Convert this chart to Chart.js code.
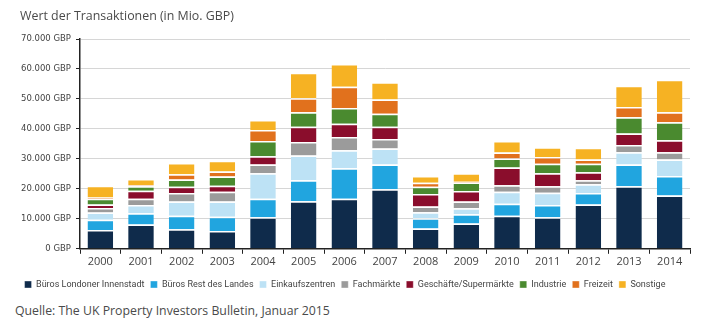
<!DOCTYPE html>
<html lang="de">
<head>
<meta charset="UTF-8">
<title>Wert der Transaktionen</title>
<style>
* { margin: 0; padding: 0; box-sizing: border-box; }
body {
  width: 705px;
  height: 335px;
  background: #fff;
  font-family: "Open Sans", sans-serif;
  color: #4a4a4a;
  position: relative;
  overflow: hidden;
}
.chart-title {
  position: absolute;
  left: 20px;
  top: 7px;
  font-size: 12.4px;
}
.chart-box {
  position: absolute;
  left: 0;
  top: 0;
  width: 705px;
  height: 300px;
}
.source {
  position: absolute;
  left: 15px;
  top: 302px;
  font-size: 12.3px;
}
</style>
<script src="https://cdn.jsdelivr.net/npm/chart.js@4.4.1/dist/chart.umd.min.js"></script>
</head>
<body>
<div class="chart-box"><canvas id="chart"></canvas></div>
<div class="chart-title">Wert der Transaktionen (in Mio. GBP)</div>
<div class="source">Quelle: The UK Property Investors Bulletin, Januar 2015</div>
<script>
// Jahre
const years = ['2000', '2001', '2002', '2003', '2004', '2005', '2006', '2007',
               '2008', '2009', '2010', '2011', '2012', '2013', '2014'];

// Transaktionsvolumen je Segment, Mio. GBP
const bueroLondon   = [6300, 8100, 6500, 5900, 10500, 15900, 16700, 19900, 6800, 8400, 11000, 10500, 14800, 20900, 17800];
const bueroRest     = [3400, 3800, 4500, 4800, 6200, 7000, 10200, 8200, 3400, 3100, 4000, 4100, 3800, 7200, 6500];
const einkauf       = [2400, 2700, 4800, 5100, 8500, 8200, 6000, 5400, 2000, 2000, 4000, 4100, 2900, 4100, 5500];
const fachmaerkte   = [1500, 2100, 2800, 3200, 2900, 4500, 4400, 3100, 1900, 2300, 2200, 2200, 1400, 2400, 2400];
const geschaefte    = [1200, 2700, 2100, 2000, 2800, 5100, 4400, 4100, 4200, 3500, 5900, 4300, 2600, 3900, 4000];
const industrie     = [1900, 1500, 2400, 3100, 5100, 4900, 5300, 4400, 2400, 2800, 3000, 3200, 2900, 5400, 6000];
const freizeit      = [400, 300, 1800, 1700, 3600, 4600, 7100, 4700, 1300, 300, 2000, 2200, 1400, 3400, 3400];
const sonstige      = [3900, 2100, 3700, 3600, 3400, 8500, 7600, 5800, 2300, 2800, 3900, 3300, 3900, 7100, 10800];

const series = [
  ['Büros Londoner Innenstadt', bueroLondon, '#0f2b4b'],
  ['Büros Rest des Landes', bueroRest, '#21a5df'],
  ['Einkaufszentren', einkauf, '#bde2f5'],
  ['Fachmärkte', fachmaerkte, '#9b9b9b'],
  ['Geschäfte/Supermärkte', geschaefte, '#8a0d2c'],
  ['Industrie', industrie, '#4a8a2f'],
  ['Freizeit', freizeit, '#e1711d'],
  ['Sonstige', sonstige, '#f6b223']
];

const yTicks = [0, 10000, 20000, 30000, 40000, 50000, 60000, 70000];

function fmt(v) {
  return String(v).replace(/\B(?=(\d{3})+(?!\d))/g, '.') + ' GBP';
}

new Chart(document.getElementById('chart'), {
  type: 'bar',
  data: {
    labels: years,
    datasets: series.map(s => ({
      label: s[0],
      data: s[1],
      backgroundColor: s[2],
      borderColor: '#fff',
      borderWidth: { top: 1.5, right: 0, bottom: 0, left: 0 },
      borderSkipped: false,
      categoryPercentage: 1,
      barPercentage: 0.63
    }))
  },
  options: {
    responsive: true,
    maintainAspectRatio: false,
    animation: false,
    layout: { padding: { left: 0, right: 15, top: 39, bottom: 1 } },
    plugins: {
      tooltip: { enabled: false },
      legend: {
        position: 'bottom',
        labels: {
          boxWidth: 7,
          boxHeight: 7,
          padding: 6,
          color: '#444',
          font: { size: 9, family: "Roboto, sans-serif" }
        }
      }
    },
    scales: {
      x: {
        stacked: true,
        afterFit: axis => { axis.height += 5; },
        grid: {
          display: true,
          drawOnChartArea: false,
          offset: true,
          tickColor: '#222',
          tickLength: 5
        },
        border: { color: '#222', width: 1.5 },
        ticks: { color: '#444', padding: 1, font: { size: 11, family: "'Open Sans', sans-serif" } }
      },
      y: {
        stacked: true,
        min: 0,
        max: 70000,
        afterBuildTicks: axis => { axis.ticks = yTicks.map(v => ({ value: v })); },
        afterFit: axis => { axis.width = 80; },
        grid: { color: '#d6d6d6', tickColor: '#222', tickLength: 4 },
        border: { color: '#222', width: 1.5 },
        ticks: {
          color: '#444',
          padding: 5,
          font: { size: 8.5, family: "'DejaVu Sans', sans-serif" },
          callback: v => fmt(v)
        }
      }
    }
  }
});
</script>
</body>
</html>
